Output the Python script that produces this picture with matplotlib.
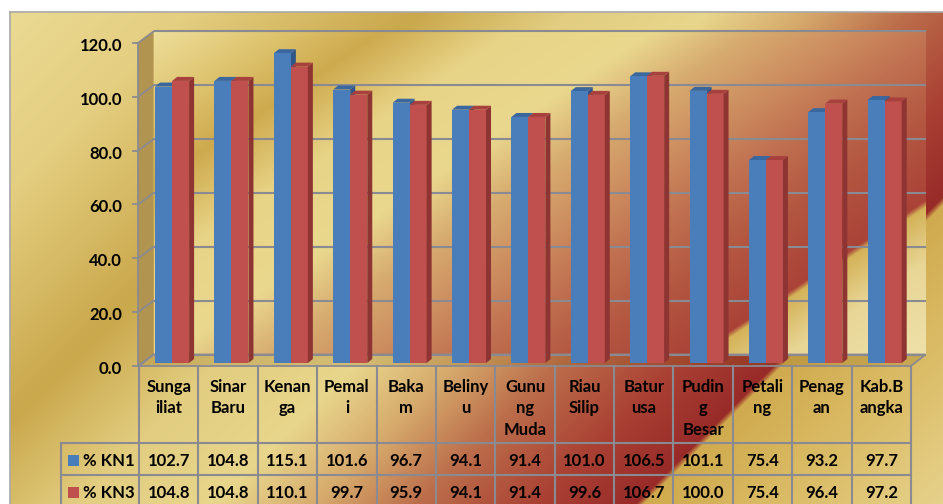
import numpy as np
import matplotlib
matplotlib.use("Agg")
import matplotlib.pyplot as plt
from matplotlib.patches import Polygon, Rectangle
from matplotlib.transforms import blended_transform_factory, offset_copy

# ---------------- data ----------------
categories = ["Sunga\niliat", "Sinar\nBaru", "Kenan\nga", "Pemal\ni", "Baka\nm",
              "Beliny\nu", "Gunu\nng\nMuda", "Riau\nSilip", "Batur\nusa",
              "Pudin\ng\nBesar", "Petali\nng", "Penag\nan", "Kab.B\nangka"]
kn1 = [102.7, 104.8, 115.1, 101.6, 96.7, 94.1, 91.4, 101.0, 106.5, 101.1, 75.4, 93.2, 97.7]
kn3 = [104.8, 104.8, 110.1, 99.7, 95.9, 94.1, 91.4, 99.6, 106.7, 100.0, 75.4, 96.4, 97.2]
series_names = ["% KN1", "% KN3"]
yticks = [0, 20, 40, 60, 80, 100, 120]

# ---------------- style ----------------
plt.rcParams['font.family'] = ['Lato', 'DejaVu Sans']
FS = 12
BLUE = '#4A7EBB'
BLUE_TOP = '#3A679E'
RED = '#C0504D'
RED_SIDE = '#8E3432'
RED_TOP = '#A8413E'
GRID = '#8a8a92'

W, H = 943, 504
fig = plt.figure(figsize=(W / 100, H / 100), dpi=100)


def ramp(s, stops):
    ss = np.array([p[0] for p in stops], float)
    cols = np.array([p[1] for p in stops], float) / 255.0
    out = np.empty(s.shape + (3,))
    for c in range(3):
        out[..., c] = np.interp(s, ss, cols[:, c])
    return out


outer_stops = [(0, (236, 220, 150)), (200, (228, 206, 128)), (430, (202, 168, 76)),
               (580, (226, 205, 128)), (720, (232, 214, 140)), (820, (214, 170, 108)),
               (920, (188, 110, 75)), (1040, (170, 65, 52)), (1140, (152, 42, 40)),
               (1148, (208, 170, 78)), (1300, (220, 190, 105)), (1500, (234, 216, 152))]
wall_stops = [(200, (238, 222, 155)), (330, (222, 195, 110)), (430, (206, 170, 78)),
              (560, (232, 212, 135)), (700, (234, 216, 142)), (800, (215, 172, 112)),
              (900, (205, 142, 96)), (1000, (192, 112, 80)), (1100, (180, 88, 66)),
              (1228, (170, 66, 56)), (1238, (212, 178, 88)), (1320, (232, 214, 150)),
              (1500, (240, 228, 175))]

# background overlay axes in pixel coordinates
ov = fig.add_axes([0, 0, 1, 1], zorder=0)
yy, xx = np.mgrid[0:H, 0:W] + 0.5
ov.imshow(ramp(xx + yy, outer_stops), extent=(0, W, H, 0), aspect='auto',
          interpolation='bilinear')
ov.set_xlim(0, W)
ov.set_ylim(H, 0)
ov.axis('off')
ov.add_patch(Rectangle((0, 0), W, 12, color='white', lw=0))
ov.add_patch(Rectangle((0, 0), 10, H, color='white', lw=0))
ov.plot([10, 10], [12, H], color='#a8a8a8', lw=1.2)
ov.plot([10, W], [12, 12], color='#a8a8a8', lw=1.2)

# main plot axes = front plane of the 3D box
L, R, T, B = 139, 911, 43, 366
ax = fig.add_axes([L / W, (H - B) / H, (R - L) / W, (B - T) / H], zorder=1)
ax.patch.set_alpha(0)
n = len(categories)
ax.set_xlim(-0.5, n - 0.5)
ax.set_ylim(0, 120)
ax.axis('off')
PXX = n / (R - L)
PXY = 120.0 / (B - T)

DX, DY = 14.5, 11.5          # wall depth offset (px)
wx0 = -0.5 + DX * PXX
wx1 = n - 0.5 + DX * PXX
dyw = DY * PXY
axx = -0.5 - 1 * PXX

# back wall gradient
px0, px1 = L + DX, R + DX
py0, py1 = T - DY, B - DY
gx = np.linspace(px0, px1, int(px1 - px0))
gy = np.linspace(py0, py1, int(py1 - py0))
GX, GY = np.meshgrid(gx, gy)
ax.imshow(ramp(GX + 1.5 * GY, wall_stops), extent=(wx0, wx1, dyw, 120 + dyw),
          aspect='auto', origin='upper', zorder=0.5, clip_on=False,
          interpolation='bilinear')
ax.set_xlim(-0.5, n - 0.5)
ax.set_ylim(0, 120)

# left wall
ax.add_patch(Polygon([(axx, 0), (axx, 120), (wx0, 120 + dyw), (wx0, dyw)],
                     closed=True, fc='#b09450', ec='none', zorder=0.6, clip_on=False))
# floor (tinted, lets the background gradient through)
ax.add_patch(Polygon([(-0.5, 0), (wx0, dyw), (wx1, dyw), (n - 0.5, 0)], closed=True,
                     fc=(0.55, 0.40, 0.10, 0.22), ec=GRID, lw=1.3, zorder=0.7,
                     clip_on=False))

# gridlines on walls + ticks
for t in yticks:
    ax.plot([wx0, wx1], [t + dyw, t + dyw], color=GRID, lw=1.5, zorder=0.8,
            clip_on=False, solid_capstyle='butt')
    ax.plot([axx, wx0], [t, t + dyw], color=GRID, lw=1.3, zorder=0.8, clip_on=False)
    ax.plot([axx - 5 * PXX, axx], [t, t], color=GRID, lw=1.3, zorder=0.8, clip_on=False)
ax.plot([axx, axx], [0, 120], color=GRID, lw=1.3, zorder=0.8, clip_on=False)

lab_tr = offset_copy(ax.transData, fig=fig, x=0, y=-3, units='dots')
for t in yticks:
    ax.text(-0.5 - 17 * PXX, t, f"{t:.1f}", transform=lab_tr, ha='right', va='center',
            fontsize=FS, fontweight='bold', color='black', clip_on=False)

# bars (3D look)
bw = 17 * PXX
gshift = 3.4 * PXX
bb = 3 * PXY
ddx, ddy = 5 * PXX, 4 * PXY
x = np.arange(n)
xb = x + gshift - bw / 2
xr = x + gshift + bw / 2
for i in range(n):
    v1 = kn1[i]
    l1 = xb[i] - bw / 2
    r1 = xb[i] + bw / 2
    ax.add_patch(Polygon([(r1, bb), (r1 + ddx, bb + ddy), (r1 + ddx, bb + v1 + ddy),
                          (r1, bb + v1)], closed=True, fc='#2f5687', ec='none', zorder=2))
    ax.add_patch(Polygon([(l1, bb + v1), (l1 + ddx, bb + v1 + ddy),
                          (r1 + ddx, bb + v1 + ddy), (r1, bb + v1)], closed=True,
                         fc=BLUE_TOP, ec='none', zorder=2))
ax.bar(xb, kn1, width=bw, bottom=bb, color=BLUE, zorder=3, clip_on=False, lw=0)
ax.bar(xr, kn3, width=bw, bottom=bb, color=RED, zorder=4, clip_on=False, lw=0)
for i in range(n):
    v3 = kn3[i]
    l3 = xr[i] - bw / 2
    r3 = xr[i] + bw / 2
    ax.add_patch(Polygon([(r3, bb), (r3 + ddx, bb + ddy), (r3 + ddx, bb + v3 + ddy),
                          (r3, bb + v3)], closed=True, fc=RED_SIDE, ec='none', zorder=4,
                         clip_on=False))
    ax.add_patch(Polygon([(l3, bb + v3), (l3 + ddx, bb + v3 + ddy),
                          (r3 + ddx, bb + v3 + ddy), (r3, bb + v3)], closed=True,
                         fc=RED_TOP, ec='none', zorder=4, clip_on=False))

# ---------------- data table ----------------
tt = blended_transform_factory(ax.transData, ov.transData)
ROW0, ROW1, ROW2, ROW3 = B, 443, 475, 507
LEG_L = 61
for k in range(n + 1):
    ov.plot([k - 0.5, k - 0.5], [ROW0, H + 5], color=GRID, lw=1.5, transform=tt,
            clip_on=False, zorder=3)
for yv in (ROW1, ROW2):
    ov.plot([LEG_L, R], [yv, yv], color=GRID, lw=1.5, zorder=3)
ov.plot([LEG_L, LEG_L], [ROW1, H + 5], color=GRID, lw=1.5, zorder=3)

for i, c in enumerate(categories):
    ov.text(i, 379, c, transform=tt, ha='center', va='top', fontsize=FS,
            fontweight='bold', linespacing=1.42, zorder=4)
for r, (vals, ymid) in enumerate(((kn1, (ROW1 + ROW2) / 2), (kn3, (ROW2 + ROW3) / 2))):
    for i, v in enumerate(vals):
        ov.text(i, ymid + 1.5, f"{v:.1f}", transform=tt, ha='center', va='center',
                fontsize=FS, fontweight='bold', zorder=4)
    col = BLUE if r == 0 else RED
    ov.add_patch(Rectangle((68, ymid - 4), 11, 11, fc=col, ec='none', zorder=4))
    ov.text(83, ymid + 1.5, series_names[r], ha='left', va='center', fontsize=FS,
            fontweight='bold', zorder=4)

fig.savefig("out.png", dpi=100)
